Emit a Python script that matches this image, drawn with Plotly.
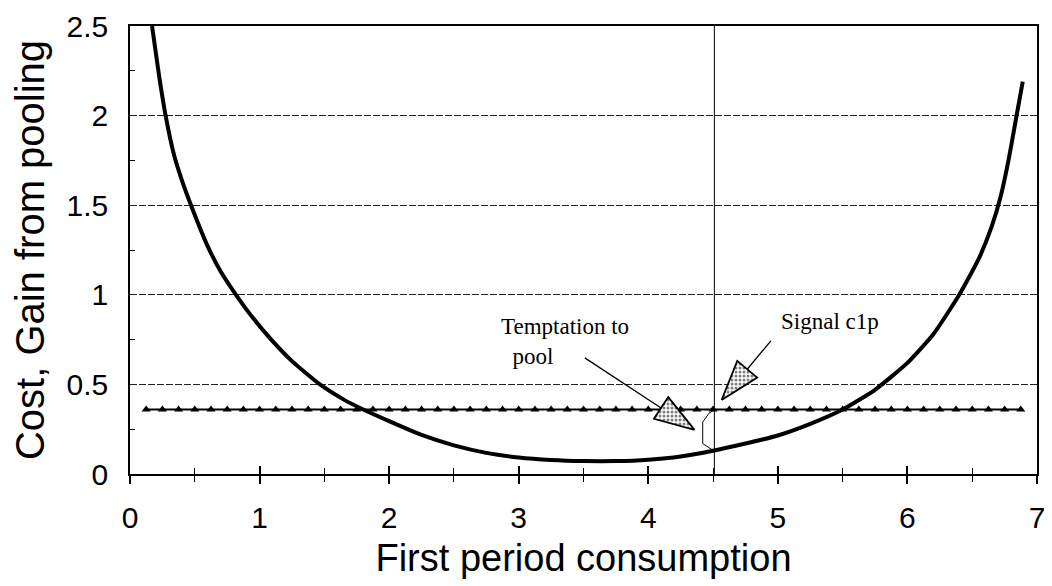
import math
import plotly.graph_objects as go

# cost curve (U shape)
curve_x = [0.17, 0.225, 0.275, 0.34, 0.40, 0.476, 0.60, 0.70, 0.818, 0.95, 1.09, 1.25,
           1.466, 1.65, 1.80, 2.0, 2.25, 2.5, 2.75, 3.0, 3.25, 3.5, 3.75, 4.0, 4.25,
           4.5, 4.75, 5.0, 5.25, 5.5, 5.75, 6.0, 6.2, 6.4, 6.55, 6.65, 6.72, 6.78,
           6.83, 6.87, 6.89]
curve_y = [2.5, 2.22, 2.0, 1.78, 1.64, 1.49, 1.27, 1.13, 1.0, 0.87, 0.75, 0.63,
           0.5, 0.415, 0.36, 0.295, 0.218, 0.16, 0.118, 0.092, 0.078, 0.072, 0.072, 0.08, 0.098,
           0.13, 0.17, 0.215, 0.28, 0.36, 0.47, 0.62, 0.78, 1.0, 1.2, 1.38, 1.55, 1.75,
           1.95, 2.11, 2.19]

# gain from pooling (flat line with triangle markers)
gain_x = [0.125, 0.25, 0.375, 0.5, 0.625, 0.75, 0.875, 1.0, 1.125, 1.25, 1.375, 1.5,
          1.625, 1.75, 1.875, 2.0, 2.125, 2.25, 2.375, 2.5, 2.625, 2.75, 2.875, 3.0,
          3.125, 3.25, 3.375, 3.5, 3.625, 3.75, 3.875, 4.0, 4.125, 4.25, 4.375, 4.5,
          4.625, 4.75, 4.875, 5.0, 5.125, 5.25, 5.375, 5.5, 5.625, 5.75, 5.875, 6.0,
          6.125, 6.25, 6.375, 6.5, 6.625, 6.75, 6.875]
gain_y = [0.36, 0.36, 0.36, 0.36, 0.36, 0.36, 0.36, 0.36, 0.36, 0.36, 0.36, 0.36,
          0.36, 0.36, 0.36, 0.36, 0.36, 0.36, 0.36, 0.36, 0.36, 0.36, 0.36, 0.36,
          0.36, 0.36, 0.36, 0.36, 0.36, 0.36, 0.36, 0.36, 0.36, 0.36, 0.36, 0.36,
          0.36, 0.36, 0.36, 0.36, 0.36, 0.36, 0.36, 0.36, 0.36, 0.36, 0.36, 0.36,
          0.36, 0.36, 0.36, 0.36, 0.36, 0.36, 0.36]

signal_c1p = 4.51

# brace between the curve and the gain line at c1p
brace_x = [4.50, 4.42, 4.42, 4.47, 4.51]
brace_y = [0.132, 0.17, 0.29, 0.34, 0.358]

# annotation arrows: (tail, tip)
temptation_arrow = ((3.51, 0.648), (4.357, 0.246))
signal_arrow = ((4.946, 0.743), (4.566, 0.413))

W, H = 1052, 586
# page body has an 8px margin, so the plot box is shifted up/left by that much
M = dict(l=122, r=23, t=18, b=120)
X_RANGE = [0, 7]
Y_RANGE = [0, 2.5]
sx = (W - M["l"] - M["r"]) / (X_RANGE[1] - X_RANGE[0])
sy = (H - M["t"] - M["b"]) / (Y_RANGE[1] - Y_RANGE[0])


def arrow_parts(tail, tip, length=40, half_w=13):
    # work in pixels so the head keeps its shape, then go back to data units
    tx, ty = tail[0] * sx, tail[1] * sy
    px, py = tip[0] * sx, tip[1] * sy
    d = math.hypot(px - tx, py - ty)
    ux, uy = (px - tx) / d, (py - ty) / d
    bx, by = px - ux * length, py - uy * length
    nx, ny = -uy, ux
    head = [(px, py), (bx + nx * half_w, by + ny * half_w), (bx - nx * half_w, by - ny * half_w), (px, py)]
    head_x = [p[0] / sx for p in head]
    head_y = [p[1] / sy for p in head]
    shaft_x = [tail[0], bx / sx]
    shaft_y = [tail[1], by / sy]
    return shaft_x, shaft_y, head_x, head_y


fig = go.Figure()

fig.add_trace(go.Scatter(
    x=gain_x, y=gain_y, mode="lines+markers",
    line=dict(color="black", width=2),
    marker=dict(symbol="triangle-up", size=8, color="black"),
))
fig.add_trace(go.Scatter(
    x=curve_x, y=curve_y, mode="lines",
    line=dict(color="black", width=4, shape="spline", smoothing=0.5),
))
fig.add_trace(go.Scatter(
    x=brace_x, y=brace_y, mode="lines",
    line=dict(color="black", width=1),
))

for tail, tip in (temptation_arrow, signal_arrow):
    shaft_x, shaft_y, head_x, head_y = arrow_parts(tail, tip)
    fig.add_trace(go.Scatter(x=shaft_x, y=shaft_y, mode="lines",
                             line=dict(color="black", width=1.3)))
    fig.add_trace(go.Scatter(
        x=head_x, y=head_y, mode="lines", fill="toself",
        fillcolor="white",
        fillpattern=dict(shape=".", fgcolor="black", bgcolor="white", size=4, solidity=0.45),
        line=dict(color="black", width=1.8),
    ))

fig.add_shape(type="line", x0=signal_c1p, x1=signal_c1p, y0=0, y1=2.5,
              xref="x", yref="y", line=dict(color="black", width=1))

serif = dict(family="Liberation Serif, Times New Roman, serif", size=23, color="black")
fig.add_annotation(x=3.36, y=0.74, text="Temptation to<br>&nbsp;&nbsp;pool", align="left",
                   showarrow=False, font=serif)
fig.add_annotation(x=5.40, y=0.85, text="Signal c1p", showarrow=False, font=serif)

grid = dict(gridcolor="#222222", gridwidth=1, griddash="7px,2px")

fig.update_layout(
    width=W, height=H,
    margin=dict(l=M["l"], r=M["r"], t=M["t"], b=M["b"], pad=0),
    plot_bgcolor="white", paper_bgcolor="white",
    showlegend=False,
    font=dict(family="Liberation Sans, Arial, sans-serif", color="black"),
    xaxis=dict(
        range=X_RANGE, dtick=1, showgrid=False, zeroline=False, automargin=False,
        showline=True, linecolor="black", linewidth=1.5, mirror=True,
        ticks="outside", ticklen=8, tickcolor="black", tickwidth=1.5,
        minor=dict(dtick=0.5, ticks="outside", ticklen=6, tickcolor="black", tickwidth=1),
        tickfont=dict(size=30), ticklabelstandoff=8,
        title=dict(text="First period consumption", font=dict(size=38), standoff=12),
    ),
    xaxis2=dict(
        range=X_RANGE, overlaying="x", side="bottom", anchor="y", automargin=False,
        dtick=1, showgrid=False, zeroline=False, showticklabels=False,
        ticks="inside", ticklen=8, tickcolor="black", tickwidth=1.5,
        minor=dict(dtick=0.5, ticks="inside", ticklen=6, tickcolor="black", tickwidth=1),
    ),
    yaxis=dict(
        range=Y_RANGE, dtick=0.5, showgrid=True, zeroline=False, automargin=False, **grid,
        showline=True, linecolor="black", linewidth=1.5, mirror=True,
        ticks="", minor=dict(dtick=0.25, ticks="inside", ticklen=5, tickcolor="black", showgrid=False),
        tickfont=dict(size=30), ticklabelstandoff=14,
        title=dict(text="Cost, Gain from pooling", font=dict(size=40), standoff=25),
    ),
)

# dummy trace so the overlay axis gets drawn
fig.add_trace(go.Scatter(x=[0], y=[0], xaxis="x2", mode="markers",
                         marker=dict(opacity=0), hoverinfo="skip"))

fig.write_html("out.html")
